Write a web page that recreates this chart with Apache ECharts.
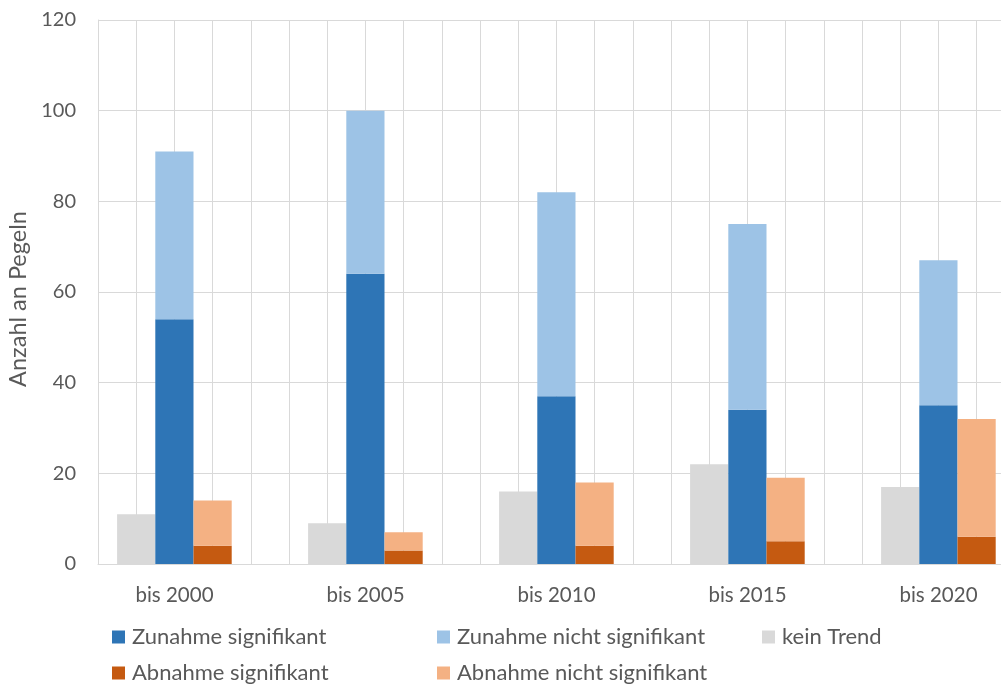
<!DOCTYPE html>
<html>
<head>
<meta charset="utf-8">
<script src="https://cdn.jsdelivr.net/npm/echarts@6/dist/echarts.min.js"></script>
<style>
html,body{margin:0;padding:0;background:#fff;}
#chart{width:1001px;height:684px;}
</style>
</head>
<body>
<div id="chart"></div>
<script>
var categories = ['bis 2000', 'bis 2005', 'bis 2010', 'bis 2015', 'bis 2020'];
var keinTrend = [11, 9, 16, 22, 17];
var zunahmeSig = [54, 64, 37, 34, 35];
var zunahmeNichtSig = [37, 36, 45, 41, 32];
var abnahmeSig = [4, 3, 4, 5, 6];
var abnahmeNichtSig = [10, 4, 14, 14, 26];
var yTicks = [0, 20, 40, 60, 80, 100, 120];

var FONT = 'Lato';
var TXT = '#595959';
var GRIDC = '#d9d9d9';

var chart = echarts.init(document.getElementById('chart'), null, {renderer: 'canvas'});

function legendAt(name, left, top) {
  return {
    data: [name], left: left, top: top, padding: 0,
    itemWidth: 13, itemHeight: 13, icon: 'rect', itemGap: 0,
    textStyle: {fontFamily: FONT, fontSize: 22, color: TXT, padding: [0, 0, 0, 2]},
    selectedMode: false
  };
}

var option = {
  animation: false,
  backgroundColor: '#ffffff',
  legend: [
    legendAt('Zunahme signifikant', 112, 626),
    legendAt('Zunahme nicht signifikant', 437, 626),
    legendAt('kein Trend', 762, 626),
    legendAt('Abnahme signifikant', 112, 662),
    legendAt('Abnahme nicht signifikant', 437, 662)
  ],
  grid: {left: 98, top: 20, width: 955, height: 544, containLabel: false, outerBoundsMode: 'none'},
  xAxis: [
    {
      type: 'category', data: categories, position: 'bottom',
      axisLine: {show: true, lineStyle: {color: GRIDC, width: 1}},
      axisTick: {show: false},
      axisLabel: {fontFamily: FONT, fontSize: 20.5, color: TXT, margin: 21, padding: [0, 38, 0, 0]},
      splitLine: {show: false}
    },
    {
      type: 'value', min: 0, max: 25, interval: 1, position: 'top',
      axisLine: {show: false}, axisTick: {show: false}, axisLabel: {show: false},
      splitLine: {show: true, lineStyle: {color: GRIDC, width: 1}}
    }
  ],
  yAxis: {
    type: 'value', min: yTicks[0], max: yTicks[yTicks.length - 1], interval: 20,
    name: 'Anzahl an Pegeln', nameLocation: 'middle', nameGap: 45,
    nameTextStyle: {fontFamily: FONT, fontSize: 23.5, color: TXT, padding: [0, 14, 0, 0]},
    axisLine: {show: true, lineStyle: {color: GRIDC}},
    axisTick: {show: false},
    axisLabel: {fontFamily: FONT, fontSize: 20, color: TXT, margin: 22},
    splitLine: {show: true, lineStyle: {color: GRIDC, width: 1}}
  },
  series: [
    {name: 'kein Trend', type: 'bar', stack: 'k', data: keinTrend, itemStyle: {color: '#d9d9d9'}, barGap: '0%', barCategoryGap: '20%'},
    {name: 'Zunahme signifikant', type: 'bar', stack: 'z', data: zunahmeSig, itemStyle: {color: '#2e75b6'}},
    {name: 'Zunahme nicht signifikant', type: 'bar', stack: 'z', data: zunahmeNichtSig, itemStyle: {color: '#9dc3e6'}},
    {name: 'Abnahme signifikant', type: 'bar', stack: 'a', data: abnahmeSig, itemStyle: {color: '#c55a11'}},
    {name: 'Abnahme nicht signifikant', type: 'bar', stack: 'a', data: abnahmeNichtSig, itemStyle: {color: '#f4b183'}},
    {name: '_leer', type: 'bar', stack: 'p', data: [null, null, null, null, null], itemStyle: {color: 'rgba(0,0,0,0)'}, silent: true}
  ]
};
chart.setOption(option);
</script>
</body>
</html>
